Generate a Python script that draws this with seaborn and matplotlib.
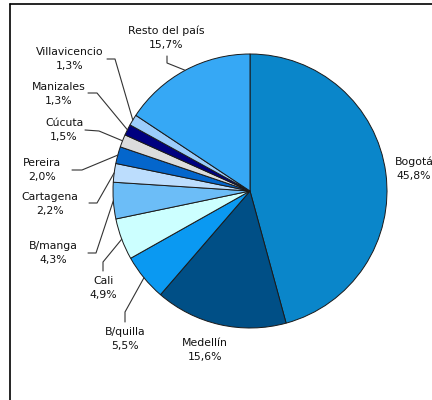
import seaborn as sns, matplotlib.pyplot as plt
from matplotlib.lines import Line2D
import numpy as np

sns.set_style("white")
plt.rcParams['font.family'] = ['DejaVu Sans']

# datos: participación por ciudad (%)
ciudades = ["Bogotá", "Medellín", "B/quilla", "Cali", "B/manga", "Cartagena",
            "Pereira", "Cúcuta", "Manizales", "Villavicencio", "Resto del país"]
valores = [45.8, 15.6, 5.5, 4.9, 4.3, 2.2, 2.0, 1.5, 1.3, 1.3, 15.7]

colores = ["#0A86CA", "#004F86", "#0A99F2", "#CCFFFF", "#6CBDF7", "#BCDDFD",
           "#0466CC", "#DCDCDC", "#000080", "#9CCDFB", "#36A8F5"]

# posiciones de las etiquetas (pixeles) y guías (inicio, codo)
pos_etiq = [(414, 169), (205, 350), (125, 339), (103, 288), (53, 253), (50, 204),
            (42, 170), (64, 130), (59, 94), (70, 59), (166, 38)]
guias = [None, None, ((125, 322), (125, 312)), ((103, 271), (103, 262)),
         ((88, 253), (96, 253)), ((89, 203), (97, 203)), ((72, 170), (82, 170)),
         ((85, 130), (99, 131)), ((88, 93), (97, 93)), ((107, 59), (115, 59)),
         ((167, 56), (167, 63))]

fig = plt.figure(figsize=(4.32, 4.0), dpi=100)
ax = fig.add_axes([0, 0, 1, 1])

cx, cy, r = 250, 191, 137
wedges, _ = ax.pie(valores, colors=colores, startangle=-90, counterclock=True,
                   center=(cx, cy), radius=r,
                   wedgeprops=dict(edgecolor="#1a1a1a", linewidth=0.7))

ax.set_xlim(0, 432)
ax.set_ylim(400, 0)
ax.set_aspect('equal')
ax.axis('off')

for i, (w, nombre, v) in enumerate(zip(wedges, ciudades, valores)):
    tx, ty = pos_etiq[i]
    etiqueta = nombre + "\n" + ("%.1f%%" % v).replace(".", ",")
    ax.text(tx, ty, etiqueta, ha='center', va='center', fontsize=7.8,
            linespacing=1.55, color="#111111")
    if guias[i] is not None:
        ang = np.deg2rad((w.theta1 + w.theta2) / 2)
        ex, ey = cx + r * np.cos(ang), cy + r * np.sin(ang)
        (x0, y0), (x1, y1) = guias[i]
        ax.plot([x0, x1, ex], [y0, y1, ey], color="#333333", lw=0.8)

# marco del gráfico
fig.add_artist(Line2D([10 / 432, 10 / 432], [0, 1 - 4 / 400], color="black", lw=1.2))
fig.add_artist(Line2D([10 / 432, 1], [1 - 4 / 400, 1 - 4 / 400], color="black", lw=1.2))

fig.savefig("out.png", dpi=100)
